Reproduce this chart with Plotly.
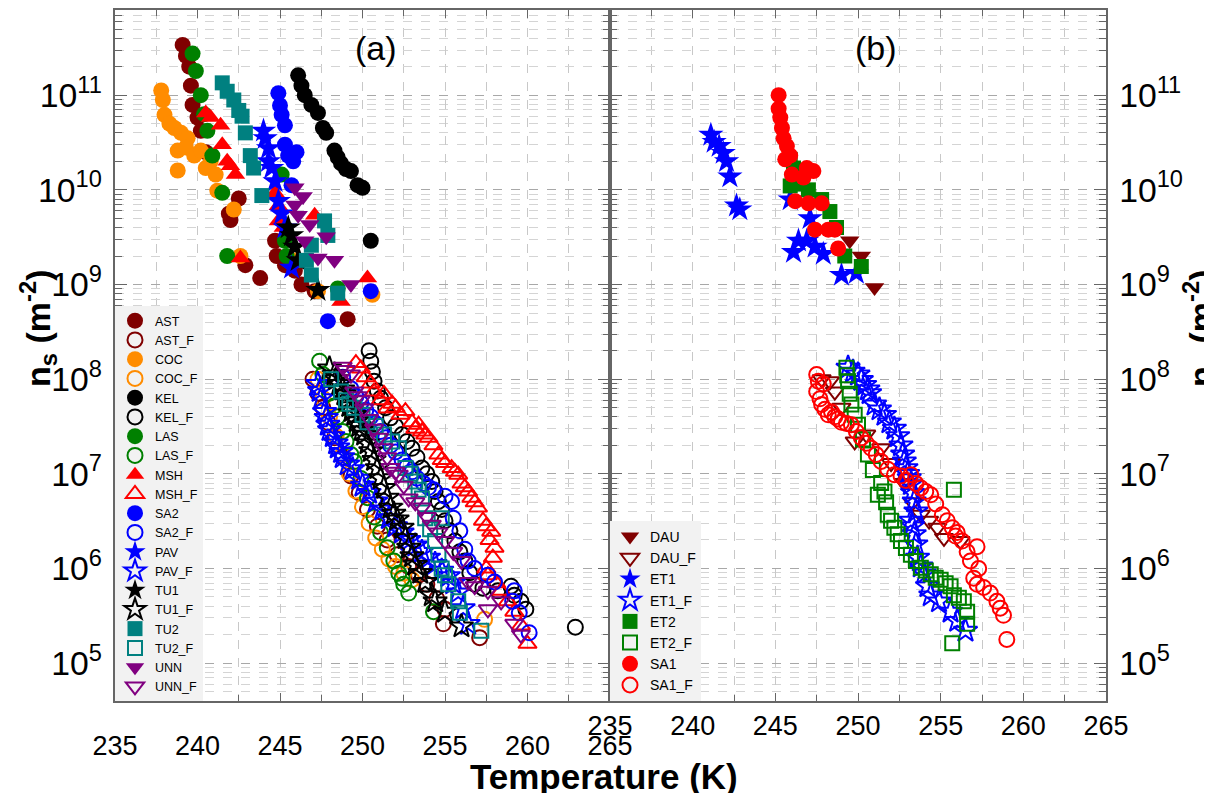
import plotly.graph_objects as go

# ---------------- data (T in K, n_s in m^-2) ----------------
# Panel (a) - filled (high n)
AST_T = [239.1, 239.3, 239.5, 239.6, 239.7, 240.0, 240.2, 240.5, 241.9, 242.5, 242.0, 242.9, 243.8, 244.7, 244.8, 245.3, 245.9, 246.3, 247.1, 249.1]
AST_N = [3.4e11, 2.6e11, 2.0e11, 1.26e11, 7.9e10, 5.8e10, 4.2e10, 2.5e10, 5.6e9, 8.1e9, 4.8e9, 1.6e9, 1.17e9, 2.9e9, 2.0e9, 1.6e9, 1.4e9, 1.0e9, 8.5e8, 4.3e8]
COC_T = [237.8, 237.9, 238.0, 238.3, 238.6, 239.0, 239.4, 238.8, 239.3, 239.8, 240.2, 238.8, 240.5, 241.1, 240.8, 241.2, 242.2, 242.6, 246.0, 247.3, 250.6]
COC_N = [1.12e11, 8.9e10, 6.2e10, 5.0e10, 4.5e10, 4.0e10, 3.5e10, 2.6e10, 2.8e10, 2.3e10, 2.6e10, 1.6e10, 1.7e10, 1.45e10, 2.0e10, 9.8e9, 6.2e9, 2.0e9, 1.8e9, 8.5e8, 7.8e8]
KEL_T = [246.1, 246.3, 246.5, 246.9, 247.3, 247.6, 247.8, 248.3, 248.5, 248.7, 249.0, 249.3, 249.7, 250.0, 250.5]
KEL_N = [1.62e11, 1.26e11, 1.0e11, 7.9e10, 6.5e10, 4.5e10, 4.0e10, 2.6e10, 2.2e10, 1.9e10, 1.66e10, 1.58e10, 1.12e10, 1.05e10, 2.9e9]
LAS_T = [239.7, 239.9, 240.2, 240.4, 240.6, 240.9, 241.5, 241.8, 245.1, 245.3, 245.4, 248.5]
LAS_N = [2.75e11, 1.8e11, 1.0e11, 6.3e10, 4.2e10, 2.3e10, 9.3e9, 2.0e9, 1.45e10, 2.9e9, 2.0e9, 9.1e8]
MSH_T = [240.5, 240.8, 241.4, 241.5, 241.8, 242.3, 242.0, 244.7, 244.9, 244.9, 245.2, 247.1, 242.6, 250.3, 248.7]
MSH_N = [6.5e10, 5.8e10, 4.8e10, 3.0e10, 2.0e10, 1.45e10, 1.8e10, 9.3e9, 6.8e9, 4.7e9, 4.0e9, 5.4e9, 1.9e9, 1.17e9, 6.6e8]
SA2_T = [244.9, 245.0, 245.1, 245.3, 245.3, 245.5, 245.8, 246.0, 245.7, 250.5, 247.9]
SA2_N = [1.05e11, 7.8e10, 6.2e10, 4.8e10, 3.0e10, 2.3e10, 2.0e10, 2.5e10, 1.12e10, 8.5e8, 4.1e8]
PAV_T = [244.0, 244.1, 244.3, 244.3, 244.5, 244.7, 244.9, 245.1, 245.3, 245.7]
PAV_N = [4.2e10, 3.5e10, 2.75e10, 2.0e10, 1.7e10, 1.23e10, 7.6e9, 5.6e9, 4.0e9, 1.5e9]
TU1_T = [245.5, 245.7, 245.9, 246.1, 247.3]
TU1_N = [4.0e9, 3.3e9, 2.5e9, 1.8e9, 8.7e8]
TU2_T = [241.5, 241.8, 242.2, 242.5, 242.7, 242.9, 243.2, 243.4, 243.9, 247.7, 247.9, 246.9, 246.6, 246.9, 248.5]
TU2_N = [1.35e11, 1.1e11, 8.9e10, 6.9e10, 6.0e10, 4.0e10, 2.3e10, 1.7e10, 8.7e9, 4.7e9, 3.3e9, 2.6e9, 1.8e9, 1.26e9, 8.1e8]
UNN_T = [245.9, 246.4, 245.9, 246.1, 246.8, 246.5, 247.8, 247.3, 248.3, 249.3]
UNN_N = [1.05e10, 8.5e9, 6.9e9, 5.4e9, 4.3e9, 2.9e9, 3.2e9, 1.9e9, 1.8e9, 1.0e9]

# Panel (a) - "_F" (low n)
AST_F_T = [247.0, 247.3, 247.6, 247.9, 248.3, 248.8, 249.3, 249.8, 250.3, 250.9, 251.5, 252.1, 252.8, 253.4, 253.9, 254.5, 255.0, 254.9, 257.1]
AST_F_N = [1.0e8, 7.1e7, 5.0e7, 3.5e7, 2.4e7, 1.5e7, 9.5e6, 6.3e6, 4.2e6, 2.8e6, 2.0e6, 1.4e6, 1.05e6, 8.5e5, 6.8e5, 4.8e5, 3.7e5, 2.6e5, 1.86e5]
COC_F_T = [247.3, 247.6, 248.0, 248.4, 248.8, 249.2, 249.6, 250.0, 250.4, 250.8, 251.2, 251.6, 252.0, 252.5, 253.0, 257.4]
COC_F_N = [1.0e8, 6.3e7, 4.0e7, 2.5e7, 1.6e7, 1.0e7, 6.6e6, 4.5e6, 3.0e6, 2.1e6, 1.6e6, 1.26e6, 1.05e6, 8.9e5, 7.6e5, 2.9e5]
KEL_F_T = [250.4, 250.5, 250.6, 250.7, 250.9, 251.1, 251.4, 251.7, 252.0, 252.4, 252.7, 253.0, 253.3, 253.6, 253.9, 254.2, 254.4, 254.6, 254.8, 255.0, 255.3, 255.6, 255.9, 256.2, 256.5, 256.8, 257.3, 258.2, 259.0, 259.2, 259.6, 259.9, 262.9]
KEL_F_N = [2.0e8, 1.55e8, 1.2e8, 9.5e7, 7.5e7, 6.3e7, 5.0e7, 3.9e7, 3.2e7, 2.6e7, 2.2e7, 1.86e7, 1.5e7, 1.15e7, 1.0e7, 8.3e6, 6.5e6, 5.1e6, 4.2e6, 3.2e6, 2.5e6, 1.95e6, 1.5e6, 1.2e6, 9.0e5, 6.8e5, 6.2e5, 5.8e5, 6.5e5, 5.2e5, 4.5e5, 3.7e5, 2.4e5]
LAS_F_T = [247.4, 247.6, 248.0, 248.3, 248.5, 248.8, 249.0, 249.3, 249.5, 249.9, 250.3, 250.7, 251.1, 251.5, 251.9, 252.2, 252.4, 252.5, 252.8, 254.3]
LAS_F_N = [1.55e8, 1.12e8, 7.1e7, 5.2e7, 4.0e7, 2.8e7, 2.2e7, 1.6e7, 1.35e7, 8.9e6, 5.6e6, 3.5e6, 2.4e6, 1.66e6, 1.2e6, 8.9e5, 7.9e5, 6.8e5, 5.5e5, 3.5e5]
MSH_F_T = [249.6, 249.9, 250.2, 250.5, 250.7, 251.1, 251.3, 251.5, 251.8, 252.0, 252.3, 252.6, 253.0, 253.2, 253.4, 253.6, 253.8, 254.0, 254.3, 254.6, 254.8, 255.0, 255.4, 255.6, 255.8, 256.0, 256.2, 256.4, 256.6, 256.8, 257.0, 257.3, 257.5, 257.7, 257.8, 257.9, 258.0, 257.5, 257.6, 258.1, 258.4, 258.8, 259.2, 259.6, 260.0]
MSH_F_N = [1.48e8, 1.3e8, 1.05e8, 9.0e7, 7.4e7, 6.0e7, 7.0e7, 4.9e7, 5.5e7, 5.0e7, 4.2e7, 4.6e7, 3.5e7, 3.0e7, 3.3e7, 2.8e7, 2.6e7, 2.4e7, 2.0e7, 1.6e7, 1.4e7, 1.3e7, 1.15e7, 1.05e7, 9.8e6, 7.9e6, 7.2e6, 6.5e6, 5.6e6, 5.0e6, 4.4e6, 3.2e6, 2.8e6, 2.0e6, 2.45e6, 1.3e6, 1.66e6, 1.0e6, 8.5e5, 7.0e5, 5.8e5, 4.5e5, 3.5e5, 2.5e5, 1.6e5]
SA2_F_T = [248.8, 249.3, 249.6, 249.9, 250.2, 250.5, 250.8, 251.1, 251.4, 251.7, 252.0, 252.4, 252.7, 253.0, 253.3, 253.7, 254.0, 254.3, 255.0, 255.4, 255.5, 255.9, 256.2, 256.4, 256.8, 257.6, 258.0, 259.2, 259.1, 259.5, 260.1]
SA2_F_N = [1.05e8, 7.9e7, 6.6e7, 5.6e7, 4.7e7, 4.0e7, 3.4e7, 2.8e7, 2.4e7, 2.0e7, 1.7e7, 1.4e7, 1.2e7, 1.05e7, 9.0e6, 7.9e6, 7.2e6, 6.8e6, 5.8e6, 5.1e6, 3.4e6, 2.5e6, 1.6e6, 1.2e6, 1.0e6, 8.5e5, 7.2e5, 5.8e5, 4.5e5, 3.4e5, 2.1e5]
PAV_F_T = [247.3, 247.4, 247.5, 247.7, 247.8, 247.9, 248.0, 248.2, 248.4, 248.5, 248.7, 248.8, 249.1, 249.4, 249.8, 250.0, 250.4, 250.8, 251.2, 251.6, 252.0, 252.4, 252.8, 253.2, 253.6, 254.0, 254.4, 254.8, 255.2, 255.5, 255.8, 256.1, 256.4]
PAV_F_N = [8.9e7, 7.5e7, 6.3e7, 4.5e7, 3.9e7, 3.3e7, 2.9e7, 2.5e7, 2.1e7, 1.9e7, 1.7e7, 1.5e7, 1.26e7, 1.12e7, 8.9e6, 7.5e6, 6.3e6, 5.1e6, 4.2e6, 3.4e6, 2.8e6, 2.4e6, 2.0e6, 1.75e6, 1.5e6, 1.3e6, 1.12e6, 9.5e5, 8.3e5, 7.0e5, 5.6e5, 3.8e5, 2.6e5]
TU1_F_T = [248.0, 248.3, 248.4, 248.6, 248.8, 248.9, 249.0, 249.2, 249.35, 249.5, 249.65, 249.8, 249.95, 250.1, 250.3, 250.5, 250.7, 250.9, 251.1, 251.3, 251.5, 251.7, 251.9, 252.1, 252.4, 252.6, 252.8, 253.0, 253.2, 253.5, 253.8, 254.2, 254.4, 255.0, 256.0]
TU1_F_N = [1.3e8, 1.12e8, 1.0e8, 8.9e7, 7.8e7, 6.9e7, 6.0e7, 5.2e7, 4.6e7, 4.2e7, 3.6e7, 3.2e7, 2.9e7, 2.6e7, 2.1e7, 1.74e7, 1.4e7, 1.15e7, 9.0e6, 7.1e6, 5.6e6, 4.4e6, 3.8e6, 3.3e6, 2.7e6, 2.1e6, 1.66e6, 1.35e6, 1.1e6, 9.0e5, 7.2e5, 5.2e5, 4.5e5, 3.5e5, 2.45e5]
TU2_F_T = [248.1, 248.7, 249.0, 249.2, 249.5, 250.0, 250.3, 250.8, 251.3, 251.8, 252.2, 252.6, 252.9, 253.2, 253.4, 253.6, 253.8, 254.1, 254.8, 254.4, 254.6, 254.8, 255.0, 255.2, 255.8, 255.9, 257.2]
TU2_F_N = [1.0e8, 7.4e7, 6.0e7, 5.5e7, 5.0e7, 4.2e7, 3.5e7, 3.2e7, 2.6e7, 2.2e7, 1.86e7, 1.15e7, 1.0e7, 8.3e6, 6.8e6, 5.5e6, 3.4e6, 2.6e6, 3.4e6, 1.95e6, 1.4e6, 1.0e6, 8.5e5, 6.8e5, 4.5e5, 3.4e5, 2.2e5]
UNN_F_T = [248.8, 249.0, 249.3, 249.5, 249.7, 249.9, 250.1, 250.4, 250.7, 251.0, 251.3, 251.5, 251.7, 252.0, 252.2, 252.5, 252.8, 253.2, 253.6, 253.9, 254.2, 254.6, 255.0, 255.5, 256.0, 256.4, 256.8, 257.6, 257.6, 258.4, 259.2, 259.6]
UNN_F_N = [1.35e8, 1.25e8, 1.12e8, 7.4e7, 6.6e7, 6.0e7, 4.9e7, 3.8e7, 3.0e7, 2.4e7, 1.86e7, 1.5e7, 1.15e7, 1.05e7, 9.8e6, 7.5e6, 5.5e6, 5.0e6, 4.4e6, 3.5e6, 2.9e6, 2.4e6, 1.95e6, 1.5e6, 1.2e6, 7.2e5, 6.5e5, 5.8e5, 3.7e5, 4.5e5, 2.6e5, 2.0e5]

# Panel (b)
DAU_T = [249.5, 250.2, 251.0]
DAU_N = [2.9e9, 2.0e9, 9.3e8]
ET1_T = [241.1, 241.3, 241.6, 241.85, 242.05, 242.25, 242.65, 242.85, 245.9, 246.1, 246.4, 246.9, 247.1, 247.4, 247.9, 249.0, 249.9]
ET1_N = [3.8e10, 3.2e10, 2.9e10, 2.45e10, 2.0e10, 1.38e10, 6.8e9, 6.2e9, 7.9e9, 2.2e9, 2.9e9, 2.9e9, 5.0e9, 2.5e9, 2.1e9, 1.26e9, 1.32e9]
ET2_T = [245.9, 246.1, 245.9, 246.6, 247.0, 247.8, 248.3, 248.7, 249.2, 250.2]
ET2_N = [2.1e10, 1.7e10, 1.1e10, 1.15e10, 1.0e10, 7.9e9, 5.9e9, 4.0e9, 2.0e9, 1.55e9]
SA1_T = [245.2, 245.2, 245.3, 245.4, 245.5, 245.7, 245.9, 245.6, 246.0, 246.9, 247.3, 246.7, 246.2, 247.0, 247.8, 247.4, 248.2, 248.6, 248.8]
SA1_N = [1.0e11, 7.2e10, 5.8e10, 4.5e10, 3.5e10, 2.9e10, 2.3e10, 2.1e10, 1.45e10, 1.7e10, 1.58e10, 1.35e10, 7.6e9, 7.2e9, 7.2e9, 3.8e9, 3.8e9, 3.8e9, 2.4e9]
DAU_F_T = [247.8, 248.3, 248.6, 249.0, 249.8, 250.5, 251.4, 252.0, 252.8, 253.3, 253.8, 254.3, 254.8, 255.2, 256.2]
DAU_F_N = [1.0e8, 9.5e7, 7.4e7, 5.0e7, 2.2e7, 2.6e7, 1.86e7, 1.3e7, 8.0e6, 5.0e6, 3.7e6, 3.2e6, 2.7e6, 2.1e6, 1.95e6]
ET1_F_T = [249.4, 249.7, 250.0, 250.2, 250.4, 250.6, 250.7, 251.0, 251.3, 251.6, 251.9, 252.2, 252.4, 252.6, 252.7, 252.8, 252.9, 253.0, 253.1, 253.2, 253.3, 253.4, 253.5, 253.2, 253.3, 253.4, 253.5, 253.6, 253.8, 254.0, 254.2, 254.4, 254.9, 255.6, 256.0, 256.5]
ET1_F_N = [1.32e8, 1.2e8, 1.12e8, 9.8e7, 8.7e7, 7.8e7, 7.1e7, 5.4e7, 4.8e7, 4.2e7, 3.5e7, 3.0e7, 2.5e7, 2.0e7, 1.6e7, 1.35e7, 1.15e7, 1.0e7, 9.0e6, 7.8e6, 6.3e6, 5.1e6, 4.0e6, 3.2e6, 2.8e6, 2.3e6, 1.8e6, 1.3e6, 1.05e6, 8.9e5, 6.5e5, 5.2e5, 4.5e5, 3.5e5, 2.8e5, 2.2e5]
ET2_F_T = [249.3, 249.35, 249.4, 249.5, 249.6, 249.8, 250.0, 250.3, 250.6, 250.9, 251.2, 251.4, 251.6, 251.7, 251.8, 252.0, 252.2, 252.4, 252.6, 252.9, 253.2, 253.5, 253.8, 254.1, 254.4, 254.7, 255.0, 255.3, 255.6, 255.8, 256.1, 256.4, 256.6, 256.6, 255.7, 255.8]
ET2_F_N = [1.32e8, 1.1e8, 9.5e7, 7.0e7, 5.4e7, 4.2e7, 3.3e7, 2.3e7, 1.6e7, 1.1e7, 6.0e6, 8.0e6, 6.5e6, 5.0e6, 3.7e6, 3.2e6, 2.7e6, 2.3e6, 1.95e6, 1.65e6, 1.4e6, 1.2e6, 1.02e6, 9.5e5, 8.7e5, 8.0e5, 7.6e5, 7.0e5, 6.5e5, 5.2e5, 4.9e5, 4.5e5, 3.5e5, 2.6e5, 1.62e5, 6.8e6]
SA1_F_T = [247.5, 247.6, 247.9, 247.5, 247.7, 247.8, 248.0, 248.2, 248.4, 248.6, 248.8, 249.0, 249.3, 249.6, 249.9, 250.2, 250.5, 250.8, 251.1, 251.4, 251.8, 252.2, 252.6, 252.9, 253.2, 253.5, 253.8, 254.1, 254.4, 254.7, 255.1, 255.4, 255.7, 255.9, 256.0, 256.3, 256.6, 257.2, 256.8, 257.3, 257.0, 257.2, 257.6, 258.0, 258.4, 258.6, 258.8, 259.0]
SA1_F_N = [1.12e8, 9.5e7, 8.9e7, 7.4e7, 6.2e7, 5.4e7, 4.8e7, 4.2e7, 4.5e7, 4.0e7, 3.8e7, 3.5e7, 3.4e7, 3.3e7, 2.8e7, 2.4e7, 2.1e7, 1.86e7, 1.6e7, 1.35e7, 1.12e7, 9.8e6, 9.5e6, 8.5e6, 9.8e6, 7.9e6, 7.1e6, 6.5e6, 6.0e6, 4.8e6, 3.7e6, 3.2e6, 2.7e6, 2.2e6, 2.4e6, 1.95e6, 1.5e6, 1.7e6, 1.2e6, 1.0e6, 7.9e5, 6.8e5, 6.3e5, 5.5e5, 4.5e5, 3.8e5, 3.2e5, 1.78e5]

TICK_LABELS = ["235", "240", "245", "250", "255", "260", "265"]
TICK_VALS = [235, 240, 245, 250, 255, 260, 265]

MAROON, ORANGE, BLACK, GREEN = "#800000", "#FF8C00", "#000000", "#008000"
RED, BLUE, TEAL, PURPLE = "#FF0000", "#0000FF", "#008080", "#800080"

series_a = [
    ("AST", AST_T, AST_N, "circle", MAROON, False),
    ("AST_F", AST_F_T, AST_F_N, "circle", MAROON, True),
    ("COC", COC_T, COC_N, "circle", ORANGE, False),
    ("COC_F", COC_F_T, COC_F_N, "circle", ORANGE, True),
    ("KEL", KEL_T, KEL_N, "circle", BLACK, False),
    ("KEL_F", KEL_F_T, KEL_F_N, "circle", BLACK, True),
    ("LAS", LAS_T, LAS_N, "circle", GREEN, False),
    ("LAS_F", LAS_F_T, LAS_F_N, "circle", GREEN, True),
    ("MSH", MSH_T, MSH_N, "triangle-up", RED, False),
    ("MSH_F", MSH_F_T, MSH_F_N, "triangle-up", RED, True),
    ("SA2", SA2_T, SA2_N, "circle", BLUE, False),
    ("SA2_F", SA2_F_T, SA2_F_N, "circle", BLUE, True),
    ("PAV", PAV_T, PAV_N, "star", BLUE, False),
    ("PAV_F", PAV_F_T, PAV_F_N, "star", BLUE, True),
    ("TU1", TU1_T, TU1_N, "star", BLACK, False),
    ("TU1_F", TU1_F_T, TU1_F_N, "star", BLACK, True),
    ("TU2", TU2_T, TU2_N, "square", TEAL, False),
    ("TU2_F", TU2_F_T, TU2_F_N, "square", TEAL, True),
    ("UNN", UNN_T, UNN_N, "triangle-down", PURPLE, False),
    ("UNN_F", UNN_F_T, UNN_F_N, "triangle-down", PURPLE, True),
]
series_b = [
    ("DAU", DAU_T, DAU_N, "triangle-down", MAROON, False),
    ("DAU_F", DAU_F_T, DAU_F_N, "triangle-down", MAROON, True),
    ("ET1", ET1_T, ET1_N, "star", BLUE, False),
    ("ET1_F", ET1_F_T, ET1_F_N, "star", BLUE, True),
    ("ET2", ET2_T, ET2_N, "square", GREEN, False),
    ("ET2_F", ET2_F_T, ET2_F_N, "square", GREEN, True),
    ("SA1", SA1_T, SA1_N, "circle", RED, False),
    ("SA1_F", SA1_F_T, SA1_F_N, "circle", RED, True),
]

SIZES = {"circle": 16, "triangle-up": 17, "triangle-down": 17, "star": 19, "square": 15}

fig = go.Figure()

def add_series(lst, xa, ya, legend):
    for name, T, N, sym, col, is_open in lst:
        s = SIZES[sym]
        if is_open:
            marker = dict(symbol=sym + "-open", size=s - 1, color=col, line=dict(width=2, color=col))
        else:
            marker = dict(symbol=sym, size=s, color=col, line=dict(width=0))
        fig.add_trace(go.Scatter(x=T, y=N, mode="markers", name=name, marker=marker,
                                 xaxis=xa, yaxis=ya, legend=legend))

add_series(series_a, "x", "y", "legend")
add_series(series_b, "x2", "y2", "legend2")

FONT = "Arial, Liberation Sans, sans-serif"
AX_COL = "#666666"
YR = [4.6, 11.9]
split = 495 / 991

def xaxis_cfg(domain, standoff):
    return dict(domain=domain, range=[235, 265], tickmode="array", tickvals=TICK_VALS, ticktext=TICK_LABELS,
                ticks="inside", ticklen=8, tickwidth=1, tickcolor=AX_COL, automargin=False,
                showline=True, linecolor=AX_COL, linewidth=1.5, mirror="ticks",
                showgrid=True, gridcolor="#c8c8c8", griddash="dash", gridwidth=1,
                minor=dict(dtick=2.5, tick0=235, ticks="inside", ticklen=6, tickcolor=AX_COL,
                           showgrid=True, gridcolor="#c8c8c8", griddash="dash"),
                tickfont=dict(family=FONT, size=27, color="black"),
                ticklabelstandoff=standoff, zeroline=False)

def yaxis_cfg(anchor, side, standoff):
    return dict(type="log", range=YR, anchor=anchor, side=side, dtick=1, exponentformat="power",
                showexponent="all", ticks="inside", ticklen=12, tickcolor=AX_COL, automargin=False,
                showline=True, linecolor=AX_COL, linewidth=1.5, mirror="ticks",
                showgrid=True, gridcolor="#a8a8a8", griddash="dash", gridwidth=1,
                minor=dict(dtick="D1", ticks="inside", ticklen=7, tickcolor=AX_COL,
                           showgrid=True, gridcolor="#d4d4d4", griddash="dash"),
                tickfont=dict(family=FONT, size=27, color="black"),
                ticklabelstandoff=standoff, zeroline=False)

fig.update_layout(
    width=1212, height=793,
    margin=dict(l=107, r=114, t=2, b=100, autoexpand=False),
    paper_bgcolor="white", plot_bgcolor="white",
    font=dict(family=FONT, color="black"),
    xaxis=xaxis_cfg([0, split], 20),
    xaxis2=xaxis_cfg([split, 1], 0),
    yaxis=yaxis_cfg("x", "left", 6),
    yaxis2=yaxis_cfg("x2", "right", 6),
    legend=dict(x=0, y=0, xanchor="left", yanchor="bottom", bgcolor="#f2f2f2",
                borderwidth=0, font=dict(family=FONT, size=12.5, color="black"),
                itemsizing="trace", tracegroupgap=0),
    legend2=dict(x=split, y=0, xanchor="left", yanchor="bottom", bgcolor="#f2f2f2",
                 borderwidth=0, font=dict(family=FONT, size=14, color="black"),
                 itemsizing="trace", tracegroupgap=0),
    showlegend=True,
)

fig.add_annotation(text="(a)", x=250.8, y=11.5, xref="x", yref="y", showarrow=False,
                   font=dict(family=FONT, size=34, color="black"))
fig.add_annotation(text="(b)", x=251.06, y=11.5, xref="x2", yref="y2", showarrow=False,
                   font=dict(family=FONT, size=34, color="black"))
fig.add_annotation(text="<b>Temperature (K)</b>", x=(596 - 107) / 991, y=(693 - 768) / 691,
                   xref="paper", yref="paper", showarrow=False, xanchor="center", yanchor="middle",
                   font=dict(family=FONT, size=35, color="black"))
fig.add_annotation(text="<b>n<sub>s</sub> (m<sup>-2</sup>)</b>", x=0, y=(693 - 320) / 691,
                   xref="paper", yref="paper", showarrow=False, textangle=-90,
                   xanchor="center", yanchor="middle", xshift=-77,
                   font=dict(family=FONT, size=34, color="black"))
fig.add_annotation(text="<b>n<sub>s</sub> (m<sup>-2</sup>)</b>", x=1, y=(693 - 320) / 691,
                   xref="paper", yref="paper", showarrow=False, textangle=-90,
                   xanchor="center", yanchor="middle", xshift=95,
                   font=dict(family=FONT, size=34, color="black"))

fig.write_html("out.html")
